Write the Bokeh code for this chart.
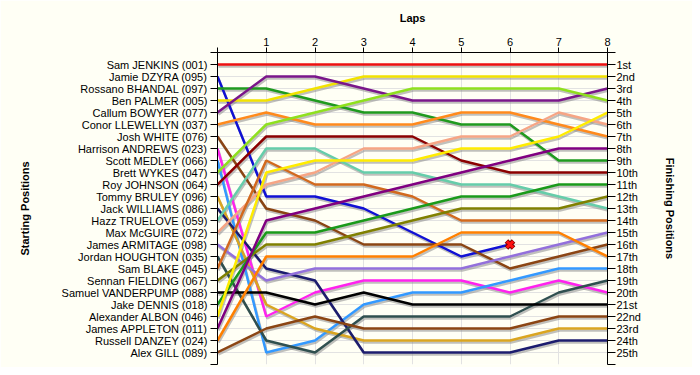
from bokeh.plotting import figure
from bokeh.models import Range1d, LinearAxis, FixedTicker
from bokeh.embed import file_html
from bokeh.resources import INLINE

drivers = ["Sam JENKINS (001)", "Jamie DZYRA (095)", "Rossano BHANDAL (097)", "Ben PALMER (005)",
           "Callum BOWYER (077)", "Conor LLEWELLYN (037)", "Josh WHITE (076)", "Harrison ANDREWS (023)",
           "Scott MEDLEY (066)", "Brett WYKES (047)", "Roy JOHNSON (064)", "Tommy BRULEY (096)",
           "Jack WILLIAMS (086)", "Hazz TRUELOVE (059)", "Max McGUIRE (072)", "James ARMITAGE (098)",
           "Jordan HOUGHTON (035)", "Sam BLAKE (045)", "Sennan FIELDING (067)", "Samuel VANDERPUMP (088)",
           "Jake DENNIS (018)", "Alexander ALBON (046)", "James APPLETON (011)", "Russell DANZEY (024)",
           "Alex GILL (089)"]

finish_labels = ["1st", "2nd", "3rd", "4th", "5th", "6th", "7th", "8th", "9th", "10th", "11th", "12th",
                 "13th", "14th", "15th", "16th", "17th", "18th", "19th", "20th", "21st", "22nd", "23rd",
                 "24th", "25th"]

laps = [0, 1, 2, 3, 4, 5, 6, 7, 8]
lap_labels = ["", "1", "2", "3", "4", "5", "6", "7", "8"]

# position of each driver (in starting order) at the end of each lap
pos_lap0 = [1, 2, 3, 4, 5, 6, 7, 8, 9, 10, 11, 12, 13, 14, 15, 16, 17, 18, 19, 20, 21, 22, 23, 24, 25]
pos_lap1 = [1, 12, 3, 4, 2, 5, 13, 22, 25, 6, 7, 21, 18, 8, 11, 19, 24, 9, 16, 20, 15, 10, 14, 17, 23]
pos_lap2 = [1, 12, 4, 3, 2, 6, 14, 20, 24, 5, 7, 23, 19, 8, 10, 18, 25, 11, 16, 21, 15, 9, 13, 17, 22]
pos_lap3 = [1, 13, 5, 2, 3, 6, 16, 19, 21, 4, 7, 24, 25, 10, 8, 18, 22, 11, 15, 20, 14, 9, 12, 17, 23]
pos_lap4 = [1, 15, 5, 2, 4, 6, 16, 19, 20, 3, 7, 24, 25, 10, 8, 18, 22, 12, 14, 21, 13, 9, 11, 17, 23]
pos_lap5 = [1, 17, 6, 2, 4, 5, 16, 19, 20, 3, 9, 24, 25, 11, 7, 18, 22, 14, 13, 21, 12, 8, 10, 15, 23]
pos_lap6 = [1, 16, 6, 2, 4, 5, 18, 20, 19, 3, 10, 24, 25, 11, 7, 17, 22, 14, 13, 21, 12, 8, 9, 15, 23]
pos_lap7 = [1, None, 9, 2, 4, 6, 17, 19, 18, 3, 10, 23, 24, 12, 5, 16, 20, 14, 13, 21, 11, 7, 8, 15, 22]
pos_lap8 = [1, None, 9, 2, 3, 7, 16, 20, 18, 4, 10, 23, 24, 13, 6, 15, 19, 14, 12, 21, 11, 5, 8, 17, 22]

retired_driver = 1
retired_lap = 6

colors = ["#ee1111", "#1111d4", "#1f9a1f", "#f2e200", "#7a168a", "#ff8a1c", "#8b4513", "#ff22ee",
          "#3399ff", "#8fe01e", "#8b0000", "#daa520", "#1c1c6e", "#66cdaa", "#f6a585", "#9370db",
          "#2f4f4f", "#d2691e", "#808000", "#000000", "#1a9a1a", "#ffec00", "#800080", "#ff8000",
          "#8b4513"]

all_laps = [pos_lap0, pos_lap1, pos_lap2, pos_lap3, pos_lap4, pos_lap5, pos_lap6, pos_lap7, pos_lap8]
n = len(drivers)
bg = "#fffff5"

p = figure(width=692, height=367, x_range=Range1d(0, 8), y_range=Range1d(n + 1, 0),
           x_axis_location="above", output_backend="svg", toolbar_location=None,
           min_border_left=217, min_border_right=85, min_border_top=52, min_border_bottom=3,
           background_fill_color=bg, border_fill_color=bg)
p.outline_line_color = None

# shadow ranges: same data shifted ~1px right / 2px down on screen
p.extra_x_ranges = {"sh": Range1d(-1.0 / 48.75, 8 - 1.0 / 48.75)}
p.extra_y_ranges = {"sh": Range1d(n + 1 - 2.0 / 12, -2.0 / 12)}

FONT = "Liberation Sans"

xa = p.xaxis[0]
xa.ticker = FixedTicker(ticks=laps)
xa.major_label_overrides = {l: s for l, s in zip(laps, lap_labels)}
xa.minor_tick_line_color = None
xa.major_tick_out = 5
xa.major_tick_in = 0
xa.major_label_standoff = 2
xa.axis_label = "Laps"
xa.axis_label_standoff = 11

ya = p.yaxis[0]
ticks_y = list(range(0, n + 2))
ya.ticker = FixedTicker(ticks=ticks_y)
ya.major_label_overrides = {i: (drivers[i - 1] if 1 <= i <= n else "") for i in ticks_y}
ya.minor_tick_line_color = None
ya.major_tick_out = 7
ya.major_tick_in = 0
ya.major_label_standoff = 3
ya.axis_label = "Starting Positions"
ya.axis_label_standoff = 28

ra = LinearAxis(ticker=FixedTicker(ticks=ticks_y))
ra.major_label_overrides = {i: (finish_labels[i - 1] if 1 <= i <= n else "") for i in ticks_y}
ra.minor_tick_line_color = None
ra.major_tick_out = 8
ra.major_tick_in = 0
ra.major_label_standoff = 1
ra.axis_label = "Finishing Positions"
ra.axis_label_standoff = 20
p.add_layout(ra, "right")

for ax in [xa, ya, ra]:
    ax.major_label_text_font = FONT
    ax.major_label_text_font_size = "11px"
    ax.major_label_text_color = "#000000"
    ax.axis_label_text_font = FONT
    ax.axis_label_text_font_size = "11px"
    ax.axis_label_text_font_style = "bold"
    ax.axis_label_text_color = "#000000"
    ax.axis_line_color = "#000000"
    ax.major_tick_line_color = "#000000"

p.xgrid.ticker = FixedTicker(ticks=laps)
p.ygrid.ticker = FixedTicker(ticks=ticks_y)
p.xgrid.grid_line_color = "#e2e2e2"
p.ygrid.grid_line_color = "#e2e2e2"

series = []
for d in range(n):
    xs = [lap for lap, col in zip(laps, all_laps) if col[d] is not None]
    ys = [col[d] for col in all_laps if col[d] is not None]
    series.append((xs, ys))

for d in range(n):
    xs, ys = series[d]
    p.line(xs, ys, line_color="#8c8c8c", line_alpha=0.55, line_width=2.5,
           x_range_name="sh", y_range_name="sh")
for d in range(n):
    xs, ys = series[d]
    p.line(xs, ys, line_color=colors[d], line_width=2.5)

rx = laps[retired_lap]
ry = all_laps[retired_lap][retired_driver]
p.scatter([rx], [ry], marker="x", size=10, line_color="#7a0000", line_width=5)
p.scatter([rx], [ry], marker="x", size=9, line_color="#ff1010", line_width=3)

open("out.html", "w").write(file_html(p, INLINE))
